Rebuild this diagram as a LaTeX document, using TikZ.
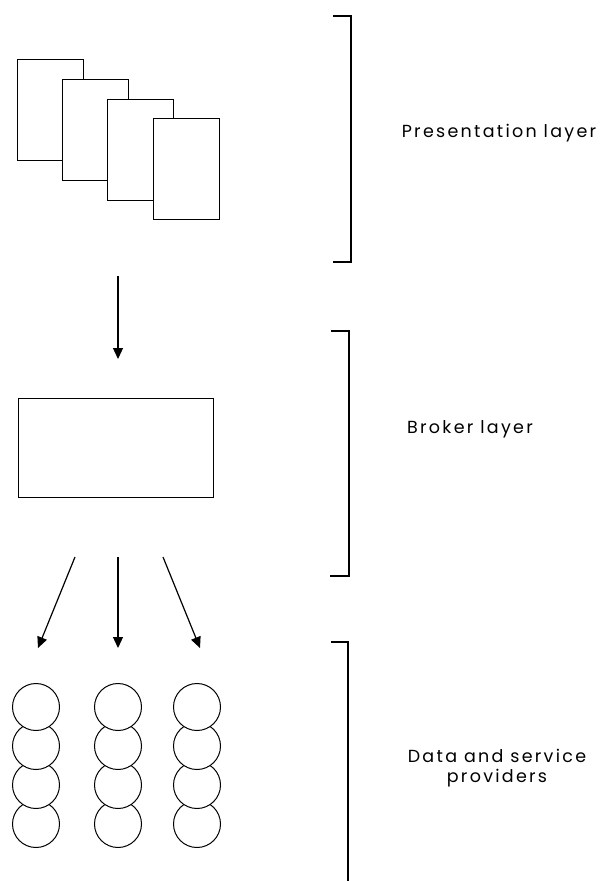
\documentclass[tikz,border=0pt]{standalone}
\usepackage{fontspec}
\setmainfont{Poppins}[LetterSpace=13]
\usetikzlibrary{arrows.meta}

\begin{document}
\begin{tikzpicture}[x=1pt, y=-1pt,
  sheet/.style={draw, fill=white, line width=1.1pt, minimum width=66pt,
    minimum height=101pt, inner sep=0pt, anchor=north west},
  brokerbox/.style={draw, line width=1.3pt, minimum width=195pt,
    minimum height=99pt, inner sep=0pt, anchor=north west},
  bead/.style={circle, draw, fill=white, line width=1pt, minimum size=47pt,
    inner sep=0pt},
  brack/.style={line width=1.6pt},
  flow/.style={line width=1.2pt, -{Triangle[length=11pt,width=10pt]}},
  lab/.style={inner sep=0pt, font=\fontsize{17.5}{21}\selectfont, align=center}]
\useasboundingbox (0,0) rectangle (600,881);

% stack of presentation pages, later sheets in front
\node[sheet] (p1) at (17,59) {};
\node[sheet] (p2) at (62,79) {};
\node[sheet] (p3) at (107,99) {};
\node[sheet] (p4) at (153,118) {};
\coordinate (stack) at (118,219);

% broker
\node[brokerbox] (broker) at (18,398) {};

% providers: three columns of four stacked discs, upper ones in front
\foreach \col/\x in {1/36, 2/118, 3/197} {
  \node[bead] (c\col4) at (\x,824) {};
  \node[bead] (c\col3) at (\x,785) {};
  \node[bead] (c\col2) at (\x,746) {};
  \node[bead] (c\col1) at (\x,707) {};
}

% arrows
\draw[flow, shorten <=57pt, shorten >=39pt] (stack) -- (broker.north -| stack);
\coordinate (s1) at (75,557);  \coordinate (e1) at (38,648);
\coordinate (s2) at (118,557); \coordinate (e2) at (118,648);
\coordinate (s3) at (163,557); \coordinate (e3) at (200,648);
\draw[flow] (s1) -- (e1);
\draw[flow] (s2) -- (e2);
\draw[flow] (s3) -- (e3);

% layer brackets
\draw[brack] (333,16) -- (351,16) -- (351,262) -- (333,262);
\draw[brack] (331,331) -- (349,331) -- (349,576) -- (330,576);
\draw[brack] (331,642) -- (348,642) -- (348,881);

% layer names
\node[lab, anchor=base] (t1) at (499,137) {Presentation layer};
\node[lab, anchor=base] (t2) at (470,433) {Broker layer};
\node[lab, anchor=base] (t3) at (497,762) {Data and service};
\node[lab, anchor=base] (t4) at (497,782) {providers};
\end{tikzpicture}
\end{document}
